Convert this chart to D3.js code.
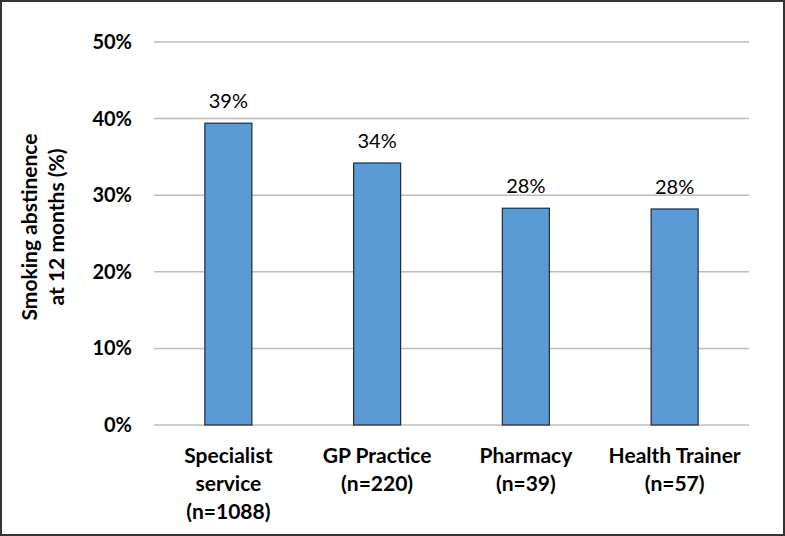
<!DOCTYPE html>
<html>
<head>
<meta charset="utf-8">
<script src="https://cdn.jsdelivr.net/npm/d3@7"></script>
<style>
  body { margin: 0; background: #fff; }
  svg { display: block; font-family: Lato, "Open Sans", sans-serif; }
</style>
</head>
<body>
<div class="chart"></div>
<script>
var svgWidth = 785;
var svgHeight = 536;

var margin = { top: 42, right: 36, bottom: 111, left: 154 };
var width = svgWidth - margin.left - margin.right;
var height = svgHeight - margin.top - margin.bottom;

// data
var categories = [
  ["Specialist", "service", "(n=1088)"],
  ["GP Practice", "(n=220)"],
  ["Pharmacy", "(n=39)"],
  ["Health Trainer", "(n=57)"]
];
var abstinence = [39.4, 34.2, 28.3, 28.2];
var valueLabels = ["39%", "34%", "28%", "28%"];
var yTicks = [0, 10, 20, 30, 40, 50];

var svg = d3.select(".chart")
  .append("svg")
  .attr("width", svgWidth)
  .attr("height", svgHeight);

// outer frame
svg.append("rect")
  .attr("x", 1)
  .attr("y", 1)
  .attr("width", svgWidth - 2)
  .attr("height", svgHeight - 2)
  .attr("fill", "#fff")
  .attr("stroke", "#333")
  .attr("stroke-width", 2);

var chartGroup = svg.append("g")
  .attr("transform", `translate(${margin.left}, ${margin.top})`);

var xScale = d3.scaleBand()
  .domain(d3.range(categories.length))
  .range([0, width])
  .paddingInner(0.684)
  .paddingOuter(0.342);

var yScale = d3.scaleLinear()
  .domain([0, 50])
  .range([height, 0]);

// gridlines
chartGroup.selectAll(".grid")
  .data(yTicks)
  .enter()
  .append("line")
  .attr("x1", 0)
  .attr("x2", width)
  .attr("y1", d => yScale(d))
  .attr("y2", d => yScale(d))
  .attr("stroke", "#bcbcbc")
  .attr("stroke-width", 1.5);

// y axis labels
var leftAxis = d3.axisLeft(yScale)
  .tickValues(yTicks)
  .tickFormat(d => d + "%")
  .tickSize(0)
  .tickPadding(22);

chartGroup.append("g")
  .call(leftAxis)
  .call(g => g.select(".domain").remove())
  .selectAll("text")
  .attr("font-family", "Lato, sans-serif")
  .attr("font-size", 20)
  .attr("font-weight", "bold")
  .attr("fill", "#000");

// bars
chartGroup.selectAll(".bar")
  .data(abstinence)
  .enter()
  .append("rect")
  .attr("x", (d, i) => xScale(i))
  .attr("y", d => yScale(d))
  .attr("width", xScale.bandwidth())
  .attr("height", d => height - yScale(d))
  .attr("fill", "#5b9bd5")
  .attr("stroke", "#1f2a36")
  .attr("stroke-width", 1.2);

// value labels
chartGroup.selectAll(".val")
  .data(abstinence)
  .enter()
  .append("text")
  .attr("x", (d, i) => xScale(i) + xScale.bandwidth() / 2)
  .attr("y", d => yScale(d) - 15)
  .attr("text-anchor", "middle")
  .attr("font-size", 20)
  .attr("fill", "#000")
  .text((d, i) => valueLabels[i]);

// category labels
var catGroup = chartGroup.append("g")
  .attr("transform", `translate(0, ${height})`);

categories.forEach(function(lines, i) {
  var t = catGroup.append("text")
    .attr("x", xScale(i) + xScale.bandwidth() / 2)
    .attr("y", 38)
    .attr("text-anchor", "middle")
    .attr("font-size", 21)
    .attr("font-weight", "bold")
    .attr("fill", "#000");
  lines.forEach(function(line, j) {
    t.append("tspan")
      .attr("x", xScale(i) + xScale.bandwidth() / 2)
      .attr("dy", j === 0 ? 0 : 28)
      .text(line);
  });
});

// y axis title
var yTitle = svg.append("text")
  .attr("transform", `translate(37, 227) rotate(-90)`)
  .attr("text-anchor", "middle")
  .attr("font-size", 21)
  .attr("font-weight", "bold")
  .attr("fill", "#000");

yTitle.append("tspan").attr("x", 0).attr("dy", 0).text("Smoking abstinence");
yTitle.append("tspan").attr("x", 0).attr("dy", 27).text("at 12 months (%)");
</script>
</body>
</html>
